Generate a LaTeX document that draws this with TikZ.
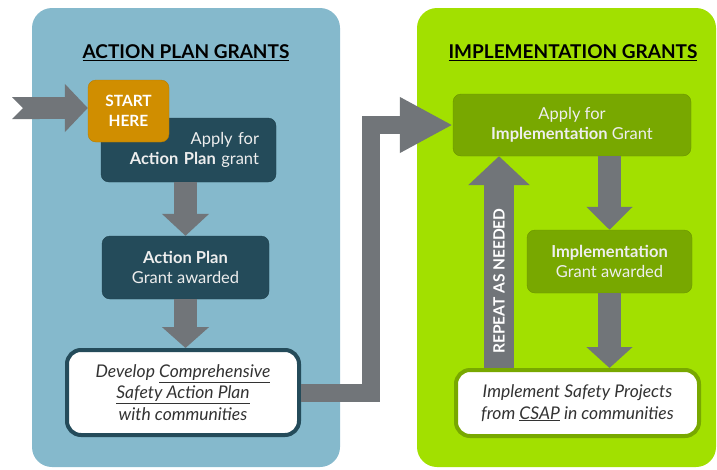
\documentclass[tikz,border=0pt]{standalone}
\usepackage{fontspec}
\setmainfont{Lato}
\usetikzlibrary{arrows.meta}

\definecolor{panelblue}{HTML}{85B9CC}
\definecolor{panelgreen}{HTML}{A2E000}
\definecolor{tealbox}{HTML}{244B5A}
\definecolor{startorange}{HTML}{D08E00}
\definecolor{greenbox}{HTML}{78A800}
\definecolor{arrowgray}{HTML}{717579}
\definecolor{softwhite}{HTML}{EEEEEE}
\definecolor{textgray}{HTML}{333333}

\tikzset{
    boxtext/.style={font=\fontsize{16.5}{20}\selectfont, text=softwhite, inner sep=0pt},
    tealstep/.style={boxtext, draw=tealbox!85!black, fill=tealbox, rounded corners=8pt, align=center},
    greenstep/.style={boxtext, draw=greenbox!88!black, fill=greenbox, rounded corners=8pt, align=center},
    outcome/.style={fill=white, line width=4pt, rounded corners=14pt, inner sep=0pt,
        font=\itshape\fontsize{17.5}{21.5}\selectfont, text=textgray, align=center},
    title/.style={font=\bfseries\fontsize{19}{22}\selectfont, text=black},
    blockarrow/.style={draw=arrowgray, line join=miter}
}

\begin{document}
\begin{tikzpicture}[x=1pt, y=-1pt]
    \useasboundingbox (0,0) rectangle (717,469);

    % the two panels
    \fill[panelblue, rounded corners=20pt] (32,8) rectangle (340,467);
    \fill[panelgreen, rounded corners=20pt] (417,8) rectangle (716,467);

    \node[title] (leftTitle) at (186,53) {\underline{ACTION PLAN GRANTS}};
    \node[title] (rightTitle) at (573,53) {\underline{IMPLEMENTATION GRANTS}};

    % action plan side
    \node[tealstep, minimum width=175pt, minimum height=64pt, text width=141pt, align=right]
        (applyAP) at (188.5,150) {Apply for\\\textbf{Action Plan} grant};
    \node[draw=startorange!88!black, fill=startorange, rounded corners=8pt, minimum width=81pt,
        minimum height=62pt, inner sep=0pt, align=center, text=white,
        font=\bfseries\fontsize{15.5}{20}\selectfont] (start) at (128.5,111) {START\\HERE};
    \node[tealstep, minimum width=167pt, minimum height=63pt]
        (awardAP) at (185.5,267.5) {\textbf{Action Plan}\\Grant awarded};
    \node[outcome, draw=tealbox, minimum width=232pt, minimum height=85pt]
        (develop) at (183,392.5) {Develop \underline{Comprehensive}\\\underline{Safety Action Plan}\\with communities};

    % implementation side
    \node[greenstep, minimum width=238pt, minimum height=62pt]
        (applyIG) at (572,125) {Apply for\\\textbf{Implementation} Grant};
    \node[greenstep, minimum width=165pt, minimum height=63pt]
        (awardIG) at (609.5,261.5) {\textbf{Implementation}\\Grant awarded};
    \node[outcome, draw=greenbox, minimum width=243pt, minimum height=66pt]
        (implement) at (577.5,403) {Implement Safety Projects\\from \underline{CSAP} in communities};

    \coordinate (entry) at (12,108);
    \coordinate (repeatFoot) at (499,368);

    % block arrows
    \draw[blockarrow, line width=22pt, {Triangle Cap[reversed]}-{Triangle[length=23pt,width=47pt]}]
        (entry) -- (entry -| start.west);
    \draw[blockarrow, line width=23pt, -{Triangle[length=22pt,width=46pt]}]
        (awardAP.north |- applyAP.south) -- (awardAP.north);
    \draw[blockarrow, line width=23pt, -{Triangle[length=21pt,width=46pt]}]
        (awardAP.south) -- (awardAP.south |- develop.north);
    \draw[blockarrow, line width=18pt, -{Triangle[length=53pt,width=52pt]}]
        (develop.east) -- ++(70,0) |- (applyIG.west);
    \draw[blockarrow, line width=23pt, -{Triangle[length=23pt,width=45pt]}]
        (awardIG.north |- applyIG.south) -- (awardIG.north);
    \draw[blockarrow, line width=23pt, -{Triangle[length=21pt,width=45pt]}]
        (awardIG.south) -- (awardIG.south |- implement.north);
    \draw[blockarrow, line width=30pt, -{Triangle[length=29pt,width=60pt]}]
        (repeatFoot) -- (repeatFoot |- applyIG.south)
        node[pos=0.41, sloped, text=white, font=\bfseries\fontsize{15.5}{18}\selectfont] (repeat) {REPEAT AS NEEDED};
\end{tikzpicture}
\end{document}
